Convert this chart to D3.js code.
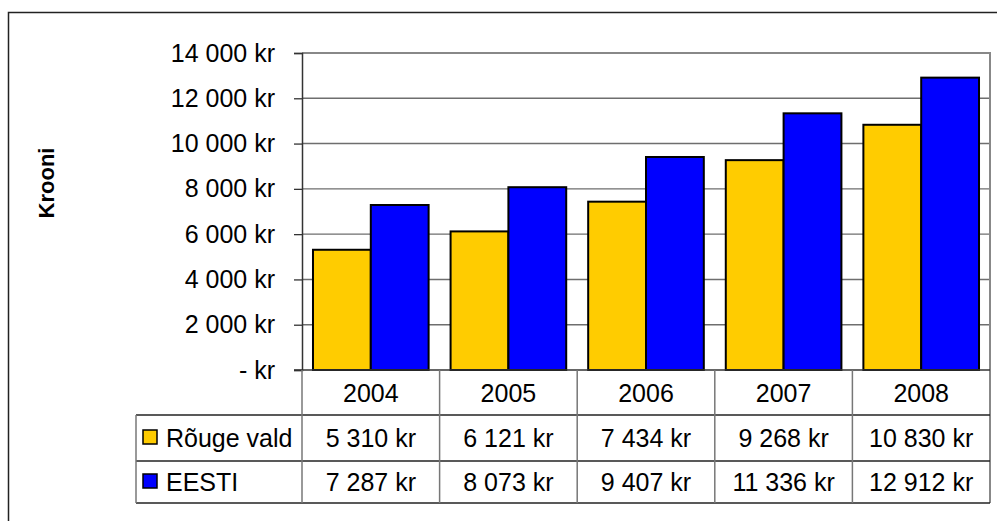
<!DOCTYPE html>
<html>
<head>
<meta charset="utf-8">
<script src="https://cdn.jsdelivr.net/npm/d3@7"></script>
<style>
  body { margin: 0; background: #fff; }
  svg { display: block; font-family: "Liberation Sans", Arial, sans-serif; }
</style>
</head>
<body>
<svg width="997" height="521"></svg>
<script>
const years = ['2004', '2005', '2006', '2007', '2008']
const seriesNames = ['Rõuge vald', 'EESTI']
const rouge = [5310, 6121, 7434, 9268, 10830]
const eesti = [7287, 8073, 9407, 11336, 12912]
const yTicks = [0, 2000, 4000, 6000, 8000, 10000, 12000, 14000]
const colors = ['#FFCC00', '#0000FF']

const values = [rouge, eesti]

const svg = d3.select('svg')
const locale = d3.formatLocale({ decimal: ',', thousands: ' ', grouping: [3], currency: ['', ''] })
const fmt = locale.format(',d')
const kr = d => d === 0 ? '- kr' : fmt(d) + ' kr'
const fs = 25

const plotL = 302, plotR = 990, plotT = 53, plotB = 370
const rowY = [370, 415, 461, 503]

const x0 = d3.scaleBand().domain(years).range([plotL, plotR]).padding(0)
const x1 = d3.scaleBand().domain(seriesNames).range([0, x0.bandwidth()]).paddingInner(0).paddingOuter(0.19)
const y = d3.scaleLinear().domain([0, 14000]).range([plotB, plotT])

// outer chart frame
svg.append('path')
  .attr('d', `M8.5,521 V12.5 H997`)
  .attr('fill', 'none').attr('stroke', '#222').attr('stroke-width', 1.5)

// gridlines
svg.append('g').selectAll('line').data(yTicks.slice(1)).join('line')
  .attr('x1', plotL).attr('x2', plotR)
  .attr('y1', d => y(d)).attr('y2', d => y(d))
  .attr('stroke', '#6e6e6e').attr('stroke-width', 1.4)

// plot border top / right
svg.append('path')
  .attr('d', `M${plotL},${plotT} H${plotR} V${rowY[3]}`)
  .attr('fill', 'none').attr('stroke', '#888').attr('stroke-width', 2)

// bars
const groups = svg.append('g').selectAll('g').data(years).join('g')
  .attr('transform', d => `translate(${x0(d)},0)`)
groups.selectAll('rect').data((d, i) => seriesNames.map((s, j) => ({ s, j, v: values[j][i] }))).join('rect')
  .attr('x', d => x1(d.s))
  .attr('width', x1.bandwidth())
  .attr('y', d => y(d.v))
  .attr('height', d => y(0) - y(d.v))
  .attr('fill', d => colors[d.j])
  .attr('stroke', '#000').attr('stroke-width', 2)

// y axis
const yAxis = d3.axisLeft(y).tickValues(yTicks).tickFormat(kr).tickSize(8).tickPadding(19)
const ga = svg.append('g').attr('transform', `translate(${plotL},0)`).call(yAxis)
ga.select('.domain').attr('stroke', '#333').attr('stroke-width', 1.5)
ga.selectAll('.tick line').attr('stroke', '#333').attr('stroke-width', 1.3)
ga.selectAll('.tick text').attr('font-size', fs).attr('fill', '#000')
  .attr('font-family', '"Liberation Sans", Arial, sans-serif')

// axis title
svg.append('text')
  .attr('transform', 'translate(54,183) rotate(-90)')
  .attr('text-anchor', 'middle')
  .attr('font-size', 22).attr('font-weight', 'bold')
  .text('Krooni')

// x axis baseline
svg.append('line')
  .attr('x1', plotL - 8).attr('x2', plotR).attr('y1', plotB).attr('y2', plotB)
  .attr('stroke', '#333').attr('stroke-width', 1.5)

// data table
const tbl = svg.append('g')
tbl.selectAll('line.h').data(rowY.slice(1)).join('line')
  .attr('class', 'h')
  .attr('x1', 136).attr('x2', plotR).attr('y1', d => d).attr('y2', d => d)
  .attr('stroke', '#222').attr('stroke-width', 1.5)
const vx = years.map(d => x0(d))
tbl.selectAll('line.v').data(vx).join('line')
  .attr('class', 'v')
  .attr('x1', d => d).attr('x2', d => d).attr('y1', rowY[0]).attr('y2', rowY[3])
  .attr('stroke', '#777').attr('stroke-width', 1.5)
tbl.append('line')
  .attr('x1', 136).attr('x2', 136).attr('y1', rowY[1]).attr('y2', rowY[3])
  .attr('stroke', '#777').attr('stroke-width', 1.5)

tbl.selectAll('text.yr').data(years).join('text')
  .attr('class', 'yr')
  .attr('x', d => x0(d) + x0.bandwidth() / 2)
  .attr('y', (rowY[0] + rowY[1]) / 2)
  .attr('dy', '0.36em')
  .attr('text-anchor', 'middle').attr('font-size', fs)
  .text(d => d)

seriesNames.forEach((s, j) => {
  const cy = (rowY[j + 1] + rowY[j + 2]) / 2
  tbl.append('rect')
    .attr('x', 143).attr('y', cy - 8).attr('width', 14).attr('height', 14)
    .attr('fill', colors[j]).attr('stroke', '#000').attr('stroke-width', 1.5)
  tbl.append('text')
    .attr('x', 166).attr('y', cy).attr('dy', '0.36em')
    .attr('font-size', fs).text(s)
  tbl.selectAll('text.v' + j).data(values[j]).join('text')
    .attr('class', 'v' + j)
    .attr('x', (d, i) => x0(years[i]) + x0.bandwidth() / 2)
    .attr('y', cy).attr('dy', '0.36em')
    .attr('text-anchor', 'middle').attr('font-size', fs)
    .text(d => kr(d))
})
</script>
</body>
</html>
